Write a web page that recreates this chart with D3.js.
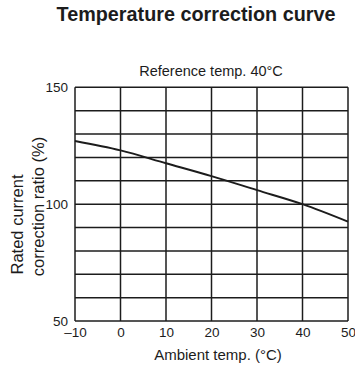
<!DOCTYPE html>
<html>
<head>
<meta charset="utf-8">
<script src="https://cdn.jsdelivr.net/npm/d3@7"></script>
<style>
  html, body { margin: 0; padding: 0; background: #fff; }
  svg { display: block; font-family: "Liberation Sans", Arial, Helvetica, sans-serif; }
</style>
</head>
<body>
<svg id="chart" width="355" height="367"></svg>
<script>
// Ambient temperature (°C) and rated current correction ratio (%)
const temps = [-10, 0, 10, 20, 30, 40, 50];
const ratios = [127, 123, 117.5, 112, 106, 100, 92.5];

// Axis ticks
const xTicks = [-10, 0, 10, 20, 30, 40, 50];
const yGrid = [50, 60, 70, 80, 90, 100, 110, 120, 130, 140, 150];
const yLabels = [50, 100, 150];

const svg = d3.select("#chart");
const plot = { left: 75, right: 348, top: 87.3, bottom: 321 };

const x = d3.scaleLinear().domain([-10, 50]).range([plot.left, plot.right]);
const y = d3.scaleLinear().domain([50, 150]).range([plot.bottom, plot.top]);

const ink = "#1c1c1c";

// Title
svg.append("text")
  .attr("x", 196).attr("y", 21)
  .attr("text-anchor", "middle")
  .attr("font-size", 19.8).attr("font-weight", "bold")
  .attr("fill", ink)
  .text("Temperature correction curve");

// Subtitle
svg.append("text")
  .attr("x", 211).attr("y", 76)
  .attr("text-anchor", "middle")
  .attr("font-size", 14.5)
  .attr("fill", ink)
  .text("Reference temp. 40°C");

// Grid
const grid = svg.append("g").attr("stroke", ink).attr("stroke-width", 1.5);
grid.selectAll("line.h").data(yGrid).enter().append("line")
  .attr("x1", plot.left).attr("x2", plot.right)
  .attr("y1", d => y(d)).attr("y2", d => y(d));
grid.selectAll("line.v").data(xTicks).enter().append("line")
  .attr("x1", d => x(d)).attr("x2", d => x(d))
  .attr("y1", plot.top).attr("y2", plot.bottom);

// Y-axis tick labels
const yAxis = d3.axisLeft(y).tickValues(yLabels).tickSize(0).tickPadding(7);
svg.append("g").attr("transform", `translate(${plot.left},0)`).call(yAxis)
  .call(g => g.select(".domain").remove())
  .call(g => g.selectAll("text").attr("font-size", 13.5).attr("fill", ink)
    .attr("font-family", "Liberation Sans, Arial, sans-serif"));

// X-axis tick labels
const xAxis = d3.axisBottom(x).tickValues(xTicks).tickSize(0).tickPadding(6)
  .tickFormat(d => d < 0 ? "\u2013" + Math.abs(d) : String(d));
svg.append("g").attr("transform", `translate(0,${plot.bottom})`).call(xAxis)
  .call(g => g.select(".domain").remove())
  .call(g => g.selectAll("text").attr("font-size", 13.5).attr("fill", ink)
    .attr("font-family", "Liberation Sans, Arial, sans-serif"));

// Axis titles
svg.append("text")
  .attr("x", 218).attr("y", 360)
  .attr("text-anchor", "middle")
  .attr("font-size", 15).attr("fill", ink)
  .text("Ambient temp. (°C)");

svg.append("text")
  .attr("transform", "translate(23,224.5) rotate(-90)")
  .attr("text-anchor", "middle")
  .attr("font-size", 16.5).attr("fill", ink)
  .text("Rated current");
svg.append("text")
  .attr("transform", "translate(44,206.5) rotate(-90)")
  .attr("text-anchor", "middle")
  .attr("font-size", 16.5).attr("fill", ink)
  .text("correction ratio (%)");

// Correction curve
const line = d3.line()
  .x((d, i) => x(temps[i]))
  .y(d => y(d))
  .curve(d3.curveMonotoneX);
svg.append("path")
  .datum(ratios)
  .attr("fill", "none")
  .attr("stroke", ink)
  .attr("stroke-width", 2)
  .attr("d", line);
</script>
</body>
</html>
